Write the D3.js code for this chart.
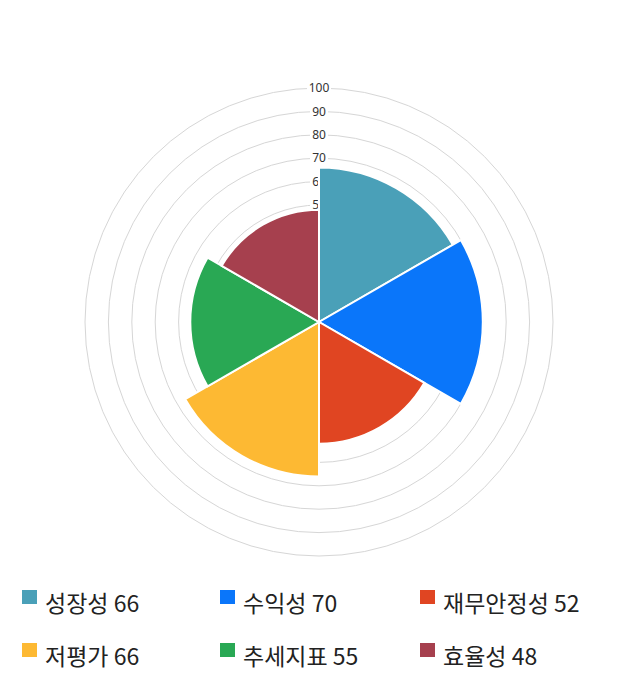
<!DOCTYPE html>
<html>
<head>
<meta charset="utf-8">
<script src="https://cdn.jsdelivr.net/npm/d3@7"></script>
<style>
  body { margin: 0; background: #fff; }
  svg { display: block; }
</style>
</head>
<body>
<div id="chart"></div>
<script>
// Chart values
const categories = ["성장성", "수익성", "재무안정성", "저평가", "추세지표", "효율성"];
const values = [66, 70, 52, 66, 55, 48];
const colors = ["#4aa0b8", "#0a76fa", "#e04522", "#fdb933", "#29a854", "#a6404e"];
const ringTicks = [10, 20, 30, 40, 50, 60, 70, 80, 90, 100];

const width = 640, height = 700;
const cx = 319, cy = 322;
const outer = 234;

const svg = d3.select("#chart").append("svg")
    .attr("width", width)
    .attr("height", height);

const chart = svg.append("g")
    .attr("transform", `translate(${cx},${cy})`);

const rScale = d3.scaleLinear()
    .domain([0, 100])
    .range([0, outer]);

// Grid rings
chart.selectAll("circle.ring")
.data(ringTicks)
.join("circle")
    .attr("class", "ring")
    .attr("r", (d) => rScale(d))
    .attr("fill", "none")
    .attr("stroke", "#d6d6d6")
    .attr("stroke-width", 1);

// Tick labels with white backdrop
const tickG = chart.selectAll("g.tick")
.data(ringTicks)
.join("g")
    .attr("class", "tick")
    .attr("transform", (d) => `translate(0,${-rScale(d)})`);

tickG.append("rect")
    .attr("x", (d) => d === 100 ? -12 : -9)
    .attr("y", -6)
    .attr("width", (d) => d === 100 ? 24 : 18)
    .attr("height", 12)
    .attr("fill", "#fff");

tickG.append("text")
    .text((d) => d)
    .attr("text-anchor", "middle")
    .attr("dy", "0.35em")
    .style("font-family", "'Noto Sans', 'DejaVu Sans', sans-serif")
    .style("font-size", "12px")
    .attr("fill", "#333");

// Slices
const step = 2 * Math.PI / categories.length;
const arc = d3.arc()
    .innerRadius(0)
    .outerRadius((d) => rScale(d.value))
    .startAngle((d) => d.i * step)
    .endAngle((d) => (d.i + 1) * step);

chart.selectAll("path.slice")
.data(values.map((v, i) => ({ value: v, i: i })))
.join("path")
    .attr("class", "slice")
    .attr("d", arc)
    .attr("fill", (d) => colors[d.i])
    .attr("stroke", "#fff")
    .attr("stroke-width", 2);

// Legend
const legendCols = [22, 220, 420];
const legendRows = [590, 643];

const legend = svg.selectAll("g.legend")
.data(categories)
.join("g")
    .attr("class", "legend")
    .attr("transform", (d, i) => `translate(${legendCols[i % 3]},${legendRows[Math.floor(i / 3)]})`);

legend.append("rect")
    .attr("width", 15)
    .attr("height", 14)
    .attr("fill", (d, i) => colors[i]);

legend.append("text")
    .text((d, i) => `${d} ${values[i]}`)
    .attr("x", 23)
    .attr("y", 22)
    .style("font-family", "'Noto Sans CJK KR', sans-serif")
    .style("font-size", "23px")
    .attr("fill", "#222");
</script>
</body>
</html>
